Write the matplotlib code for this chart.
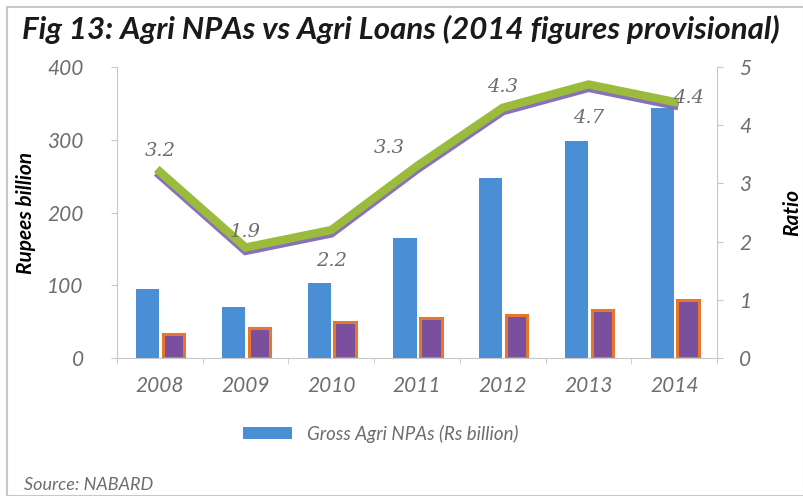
import numpy as np
import matplotlib.pyplot as plt
import matplotlib.patheffects as pe
from matplotlib.patches import Rectangle

# data
years = ['2008', '2009', '2010', '2011', '2012', '2013', '2014']
gross_npa = [95, 70, 103, 165, 247, 298, 343]
second_series = [33, 42, 50, 55, 59, 66, 80]
ratio = [3.2, 1.9, 2.2, 3.3, 4.3, 4.7, 4.4]
ratio_labels = ['3.2', '1.9', '2.2', '3.3', '4.3', '4.7', '4.4']

plt.rcParams['font.family'] = ['Lato', 'DejaVu Sans']
grey = '#6d6d6d'

fig = plt.figure(figsize=(8.04, 4.96), dpi=100)
fig.patches.append(Rectangle((0.009, 0.0), 0.991, 0.985, transform=fig.transFigure,
                             fill=False, edgecolor='#c8c8c8', linewidth=1.5))

ax = fig.add_axes([0.1455, 0.278, 0.7465, 0.587])
x = np.arange(len(years))

ax.bar(x - 0.14, gross_npa, width=0.27, color='#4a8fd6', label='Gross Agri NPAs (Rs billion)')
ax.bar(x + 0.16, second_series, width=0.25, color='#7a4f9e', edgecolor='#e8772e', linewidth=2.2)

ax.set_xlim(-0.5, len(years) - 0.5)
ax.set_ylim(0, 400)
ax.set_yticks([0, 100, 200, 300, 400])
ax.set_xticks(x)
ax.set_xticklabels(years)
ax.set_xticks(np.arange(-0.5, len(years), 1), minor=True)
ax.tick_params(axis='x', which='major', length=0, pad=13, labelsize=15, labelcolor=grey)
ax.tick_params(axis='x', which='minor', length=4, color='#c8c8c8')
ax.tick_params(axis='y', length=4, color='#c8c8c8', labelsize=15, labelcolor=grey, pad=20)
for lab in ax.get_xticklabels() + ax.get_yticklabels():
    lab.set_style('italic')
for s in ['top', 'right']:
    ax.spines[s].set_visible(False)
ax.spines['left'].set_color('#c8c8c8')
ax.spines['bottom'].set_color('#c8c8c8')
ax.set_ylabel('Rupees billion', fontsize=15, fontweight='bold', style='italic', labelpad=8)

ax2 = ax.twinx()
ax2.set_ylim(0, 5)
ax2.set_yticks([0, 1, 2, 3, 4, 5])
ax2.plot(x, ratio, color='#9bbb3c', linewidth=6, solid_joinstyle='miter',
         path_effects=[pe.SimpleLineShadow(offset=(0, -2.5), shadow_color='#7b62b3', alpha=0.9),
                       pe.Normal()])
ax2.tick_params(axis='y', length=4, color='#c8c8c8', labelsize=15, labelcolor=grey, pad=12)
for lab in ax2.get_yticklabels():
    lab.set_style('italic')
for s in ['top', 'left', 'bottom']:
    ax2.spines[s].set_visible(False)
ax2.spines['right'].set_color('#c8c8c8')
ax2.set_ylabel('Ratio', fontsize=15, fontweight='bold', style='italic', labelpad=22)

# data labels
offsets = [(0, 15), (0, 11), (0, -22), (-20, 13), (0, 15), (0, -24), (10, 3)]
for xi, yi, t, (dx, dy) in zip(x, ratio, ratio_labels, offsets):
    ax2.annotate(t, (xi, yi), xytext=(dx, dy), textcoords='offset points',
                 ha='center', va='center', fontsize=14, color=grey,
                 family='DejaVu Serif', style='italic')

ax.legend(loc='upper center', bbox_to_anchor=(0.44, -0.17), frameon=False,
          handlelength=2.6, handleheight=0.6, labelcolor=grey, prop={'style': 'italic', 'size': 13.5})

fig.text(0.027, 0.922, 'Fig 13: Agri NPAs vs Agri Loans (2014 figures provisional)',
         fontsize=22.5, fontweight='bold', style='italic', color='#1a1a1a')
fig.text(0.03, 0.012, 'Source: NABARD', fontsize=13, style='italic', color=grey)

fig.savefig('out.png', dpi=100)
